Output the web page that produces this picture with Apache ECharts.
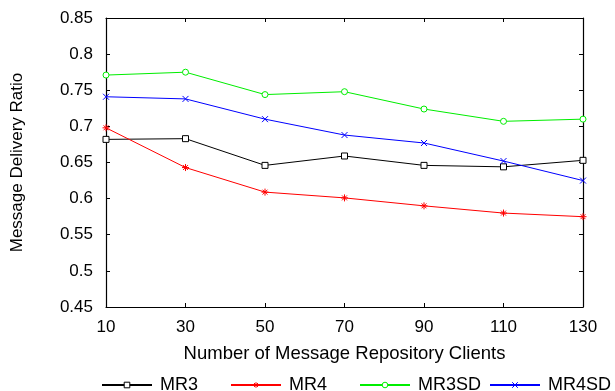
<!DOCTYPE html>
<html>
<head>
<meta charset="utf-8">
<script src="https://cdn.jsdelivr.net/npm/echarts@6/dist/echarts.min.js"></script>
<style>
  html, body { margin: 0; padding: 0; background: #fff; }
  #chart { width: 615px; height: 391px; }
</style>
</head>
<body>
<div id="chart"></div>
<script>
// Number of message repository clients
const clients = [10, 30, 50, 70, 90, 110, 130];
// Message delivery ratio per scheme
const mr3   = [0.682, 0.683, 0.646, 0.659, 0.646, 0.644, 0.653];
const mr4   = [0.698, 0.643, 0.609, 0.601, 0.590, 0.580, 0.575];
const mr3sd = [0.771, 0.775, 0.744, 0.748, 0.724, 0.707, 0.710];
const mr4sd = [0.741, 0.738, 0.710, 0.688, 0.677, 0.652, 0.625];
const yTicks = [0.45, 0.5, 0.55, 0.6, 0.65, 0.7, 0.75, 0.8, 0.85];

const FONT = '"Liberation Sans", Arial, sans-serif';

// Thin outlined marker shapes
const SQUARE = 'path://M0 0 L10 0 L10 10 L0 10 Z';
const CIRCLE = 'path://M5 0 A5 5 0 1 1 5 10 A5 5 0 1 1 5 0 Z';
const STAR = 'path://M5 0 L5 10 M0 5 L10 5 M1.5 1.5 L8.5 8.5 M8.5 1.5 L1.5 8.5';
const CROSS = 'path://M0 0 L10 10 M10 0 L0 10';

const seriesDefs = [
  { name: 'MR3',   data: mr3,   color: '#000000', symbol: SQUARE, size: 6, fill: '#fff' },
  { name: 'MR4',   data: mr4,   color: '#ff0000', symbol: STAR,   size: 7, fill: 'rgba(0,0,0,0)' },
  { name: 'MR3SD', data: mr3sd, color: '#00ee00', symbol: CIRCLE, size: 6, fill: '#fff' },
  { name: 'MR4SD', data: mr4sd, color: '#0000ff', symbol: CROSS,  size: 6, fill: 'rgba(0,0,0,0)' }
];

function markerStyle(s) {
  return { color: s.fill, borderColor: s.color, borderWidth: 1 };
}

const series = seriesDefs.map(s => ({
  name: s.name,
  type: 'line',
  xAxisIndex: 0,
  yAxisIndex: 0,
  data: clients.map((x, i) => [x, s.data[i]]),
  symbol: s.symbol,
  symbolSize: s.size,
  showAllSymbol: true,
  lineStyle: { color: s.color, width: 1 },
  itemStyle: markerStyle(s),
  emphasis: { disabled: true },
  animation: false
}));

const legendLefts = [96, 225, 354, 484];
const legends = seriesDefs.map((s, i) => ({
  data: [{ name: s.name, itemStyle: markerStyle(s) }],
  left: legendLefts[i],
  top: 371,
  itemWidth: 50,
  itemHeight: 7,
  itemGap: 0,
  selectedMode: false,
  textStyle: { fontFamily: FONT, fontSize: 18, color: '#000', padding: [0, 0, 0, 3] }
}));

const option = {
  backgroundColor: '#fff',
  animation: false,
  grid: { left: 106, right: 32, top: 18, bottom: 84 },
  legend: legends,
  xAxis: [
    {
      type: 'value', min: 10, max: 130, interval: 20,
      name: 'Number of Message Repository Clients',
      nameLocation: 'middle', nameGap: 37,
      nameTextStyle: { fontFamily: FONT, fontSize: 18.5, color: '#000' },
      axisLine: { show: true, lineStyle: { color: '#000', width: 1.2 } },
      axisTick: { show: true, inside: true, length: 4, lineStyle: { color: '#000' } },
      axisLabel: { fontFamily: FONT, fontSize: 17, color: '#000', margin: 12 },
      splitLine: { show: false }
    },
    {
      type: 'value', position: 'top', min: 10, max: 130, interval: 20,
      axisLine: { show: true, lineStyle: { color: '#000', width: 1.2 } },
      axisTick: { show: true, inside: true, length: 4, lineStyle: { color: '#000' } },
      axisLabel: { show: false },
      splitLine: { show: false }
    }
  ],
  yAxis: [
    {
      type: 'value', min: 0.45, max: 0.85, interval: 0.05,
      name: 'Message Delivery Ratio',
      nameLocation: 'middle', nameGap: 80, nameRotate: 90,
      nameTextStyle: { fontFamily: FONT, fontSize: 17, color: '#000' },
      axisLine: { show: true, lineStyle: { color: '#000', width: 1.2 } },
      axisTick: { show: true, inside: true, length: 4, lineStyle: { color: '#000' } },
      axisLabel: {
        fontFamily: FONT, fontSize: 17, color: '#000', margin: 13,
        formatter: v => {
          const t = yTicks.find(y => Math.abs(y - v) < 1e-6);
          return t === undefined ? '' : String(t);
        }
      },
      splitLine: { show: false }
    },
    {
      type: 'value', position: 'right', min: 0.45, max: 0.85, interval: 0.05,
      axisLine: { show: true, lineStyle: { color: '#000', width: 1.2 } },
      axisTick: { show: true, inside: true, length: 4, lineStyle: { color: '#000' } },
      axisLabel: { show: false },
      splitLine: { show: false }
    }
  ],
  series: series
};

const chart = echarts.init(document.getElementById('chart'), null, { renderer: 'canvas' });
chart.setOption(option);
</script>
</body>
</html>
